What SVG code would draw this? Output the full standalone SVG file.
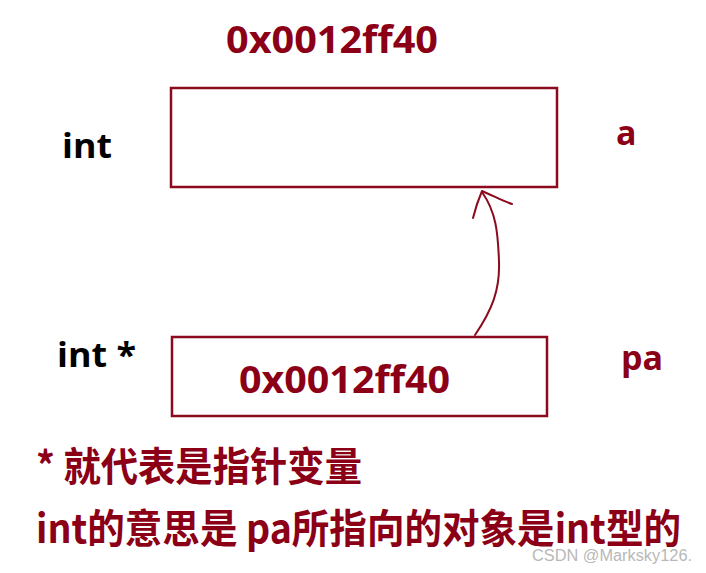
<svg xmlns="http://www.w3.org/2000/svg" width="706" height="573" viewBox="0 0 706 573">
<style>
.box{fill:none;stroke:#8B0A1E;stroke-width:2.5}
.red{fill:#8B0016;font-family:"Open Sans","Noto Sans CJK SC",sans-serif;font-weight:bold}
.blk{fill:#000;font-family:"Open Sans",sans-serif;font-weight:bold}
.cjk{fill:#8B0016;font-family:"Noto Sans CJK SC",sans-serif;font-weight:bold}
.wire{fill:none;stroke:#8B0A1E;stroke-width:2;stroke-linecap:round;stroke-linejoin:round}
</style>
<rect width="706" height="573" fill="#fff"/>
<g id="addr-label"><text class="red" x="226" y="53" font-size="38" textLength="212" lengthAdjust="spacingAndGlyphs">0x0012ff40</text></g>
<g id="node-a">
<rect class="box" x="171" y="88" width="386" height="99"/>
<text class="blk" x="62" y="158" font-size="34" textLength="50" lengthAdjust="spacingAndGlyphs">int</text>
<text class="red" x="616" y="145" font-size="34">a</text>
</g>
<g id="node-pa">
<rect class="box" x="172" y="337" width="375" height="79"/>
<text class="red" x="239" y="393" font-size="38" textLength="211" lengthAdjust="spacingAndGlyphs">0x0012ff40</text>
<text class="blk" x="57" y="367" font-size="34" textLength="79" lengthAdjust="spacingAndGlyphs">int *</text>
<text class="red" x="621" y="370" font-size="34">pa</text>
</g>
<g id="connectors">
<path class="wire" d="M475 335 C492 310 500 290 499 262 C498 232 496 212 482 192"/>
<path class="wire" d="M473 218 C476 206 479 198 482 191 C492 195 502 201 512 204"/>
</g>
<g id="notes">
<text class="cjk" x="36" y="481" font-size="40" textLength="326" lengthAdjust="spacingAndGlyphs">* 就代表是指针变量</text>
<text class="cjk" x="36" y="543" font-size="40" textLength="645" lengthAdjust="spacingAndGlyphs">int的意思是 pa所指向的对象是int型的</text>
<text x="532" y="561" font-size="16" fill="#b8b8b8" font-family="'Liberation Sans',sans-serif" textLength="160" lengthAdjust="spacingAndGlyphs">CSDN @Marksky126.</text>
</g>
</svg>
